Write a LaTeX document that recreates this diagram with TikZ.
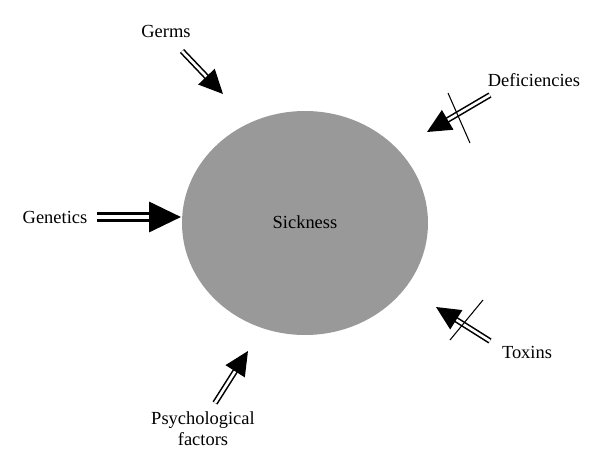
\documentclass[tikz,border=0pt]{standalone}
\usepackage{fontspec}
\setmainfont{Liberation Serif}
\usetikzlibrary{arrows.meta}
\usepackage{xcolor}
\definecolor{sickgray}{RGB}{153,153,153}

\begin{document}
\begin{tikzpicture}[x=0.02cm,y=-0.02cm,font=\fontsize{10.5}{12}\selectfont,
  cause/.style={line width=0.9pt,double distance=1.5pt,-{Triangle[length=4.8mm,width=4.5mm]}},
  strongcause/.style={line width=2pt,double distance=2pt,-{Triangle[length=6.4mm,width=6mm]}},
  crossout/.style={line width=0.6pt}]
\useasboundingbox (0,0) rectangle (600,471);
\fill[sickgray] (305,223) ellipse (123 and 112);
\node (sick) at (305,222) {Sickness};
% labels
\node (germs) at (166,31) {Germs};
\node (defic) at (534,80) {Deficiencies};
\node (genet) at (55,217) {Genetics};
\node (toxin) at (527,352) {Toxins};
\node[align=center,inner sep=0pt] (psych) at (203,429) {Psychological\\factors};
% arrow ends
\coordinate (germsA) at (182,51);
\coordinate (germsB) at (223,94);
\coordinate (deficA) at (490,95);
\coordinate (deficB) at (427,132);
\coordinate (genetA) at (97,217);
\coordinate (genetB) at (181,217);
\coordinate (toxinA) at (490,341);
\coordinate (toxinB) at (436,307);
\coordinate (psychA) at (215,403);
\coordinate (psychB) at (248,351);
\draw[cause] (germsA) -- (germsB);
\draw[cause] (deficA) -- (deficB);
\draw[strongcause] (genetA) -- (genetB);
\draw[cause] (toxinA) -- (toxinB);
\draw[cause] (psychA) -- (psychB);
% crossed out
\draw[crossout] (448,93) -- (470,143);
\draw[crossout] (483,300) -- (450,340);
\end{tikzpicture}
\end{document}
